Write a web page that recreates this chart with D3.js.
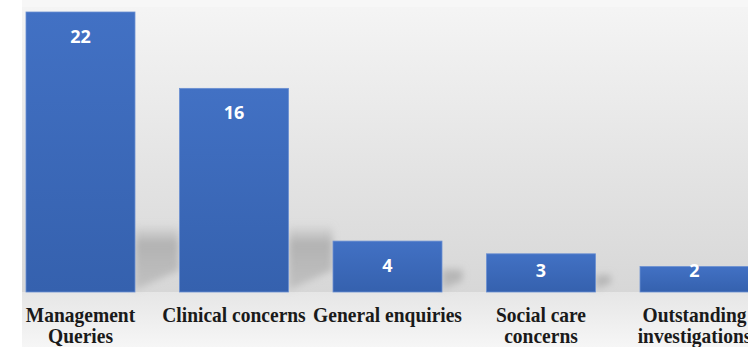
<!DOCTYPE html>
<html>
<head>
<meta charset="utf-8">
<script src="https://cdn.jsdelivr.net/npm/d3@7"></script>
<style>
    html, body { margin: 0; padding: 0; background: #ffffff; }
    svg { display: block; }
</style>
</head>
<body>
<div id="chart"></div>
<script>
// Chart data
const categories = ['Management Queries', 'Clinical concerns', 'General enquiries', 'Social care concerns', 'Outstanding investigations'];
const categoryLines = [['Management', 'Queries'], ['Clinical concerns'], ['General enquiries'], ['Social care', 'concerns'], ['Outstanding', 'investigations']];
const counts = [22, 16, 4, 3, 2];

const width = 748, height = 347;
const baseY = 292;

const svg = d3.select('#chart').append('svg')
    .attr('width', width)
    .attr('height', height);

const defs = svg.append('defs');

// wall gradient
const wall = defs.append('linearGradient').attr('id', 'wall')
    .attr('x1', 0).attr('y1', 0).attr('x2', 0).attr('y2', 1);
wall.append('stop').attr('offset', '0%').attr('stop-color', '#f5f5f5');
wall.append('stop').attr('offset', '100%').attr('stop-color', '#d7d7d7');

const floor = defs.append('linearGradient').attr('id', 'floor')
    .attr('x1', 0).attr('y1', 0).attr('x2', 0).attr('y2', 1);
floor.append('stop').attr('offset', '0%').attr('stop-color', '#e6e6e6');
floor.append('stop').attr('offset', '100%').attr('stop-color', '#f6f6f6');

const barGrad = defs.append('linearGradient').attr('id', 'barGrad')
    .attr('x1', 0).attr('y1', 0).attr('x2', 0).attr('y2', 1);
barGrad.append('stop').attr('offset', '0%').attr('stop-color', '#4271c4');
barGrad.append('stop').attr('offset', '100%').attr('stop-color', '#3561ae');

const shadowGrad = defs.append('linearGradient').attr('id', 'shadowGrad')
    .attr('x1', 0).attr('y1', 0).attr('x2', 0).attr('y2', 1);
shadowGrad.append('stop').attr('offset', '0%').attr('stop-color', '#a8a8a8').attr('stop-opacity', 0);
shadowGrad.append('stop').attr('offset', '30%').attr('stop-color', '#a8a8a8').attr('stop-opacity', 0.8);
shadowGrad.append('stop').attr('offset', '100%').attr('stop-color', '#b4b4b4').attr('stop-opacity', 0.65);

defs.append('filter').attr('id', 'blur')
    .attr('x', '-50%').attr('y', '-50%').attr('width', '200%').attr('height', '200%')
    .append('feGaussianBlur').attr('stdDeviation', 3.5);

// background
svg.append('rect').attr('x', 22).attr('y', 0).attr('width', width - 22).attr('height', baseY)
    .attr('fill', 'url(#wall)');
svg.append('rect').attr('x', 22).attr('y', baseY).attr('width', width - 22).attr('height', height - baseY)
    .attr('fill', 'url(#floor)');
svg.append('rect').attr('x', 22).attr('y', 0).attr('width', width - 22).attr('height', 7)
    .attr('fill', '#f7f7f7');

// scales
const x = d3.scaleBand()
    .domain(categories)
    .range([26, 749])
    .paddingInner(0.29)
    .paddingOuter(0);

const y = d3.scaleLinear()
    .domain([0, 22])
    .range([baseY, 12]);

// perspective shadows
svg.append('g').selectAll('path')
    .data(counts)
    .enter()
    .append('path')
    .attr('filter', 'url(#blur)')
    .attr('fill', 'url(#shadowGrad)')
    .attr('d', (d, i) => {
        const x0 = x(categories[i]) + x.bandwidth();
        const h = Math.min((baseY - y(d)) * 0.5, 68);
        const w = Math.min(44, h * 0.8);
        const top = baseY - h;
        return `M${x0},${baseY - 2} L${x0 + w},${baseY - 2 - w * 0.45} L${x0 + w},${top} L${x0},${top} Z`;
    });

// bars
svg.append('g').selectAll('rect')
    .data(counts)
    .enter()
    .append('rect')
    .attr('x', (d, i) => x(categories[i]))
    .attr('y', d => y(d))
    .attr('width', x.bandwidth())
    .attr('height', d => baseY - y(d))
    .attr('fill', 'url(#barGrad)')
    .attr('stroke', '#6a8fd2')
    .attr('stroke-width', 0.8);

// value labels
svg.append('g').selectAll('text')
    .data(counts)
    .enter()
    .append('text')
    .attr('x', (d, i) => x(categories[i]) + x.bandwidth() / 2)
    .attr('y', d => Math.min(y(d) + 31, 277))
    .attr('text-anchor', 'middle')
    .attr('fill', '#ffffff')
    .style('font-family', '"Open Sans", sans-serif')
    .style('font-weight', 'bold')
    .style('font-size', '18px')
    .text(d => d);

// category labels
const labels = svg.append('g').selectAll('g')
    .data(categoryLines)
    .enter()
    .append('g')
    .attr('transform', (d, i) => `translate(${x(categories[i]) + x.bandwidth() / 2},322) scale(1,1.12)`);

labels.selectAll('text')
    .data(d => d)
    .enter()
    .append('text')
    .attr('x', 0)
    .attr('y', (d, j) => j * 19)
    .attr('text-anchor', 'middle')
    .attr('fill', '#1a1a1a')
    .style('font-family', '"Liberation Serif", "Times New Roman", serif')
    .style('font-weight', 'bold')
    .style('font-size', '19.5px')
    .text(d => d);
</script>
</body>
</html>
